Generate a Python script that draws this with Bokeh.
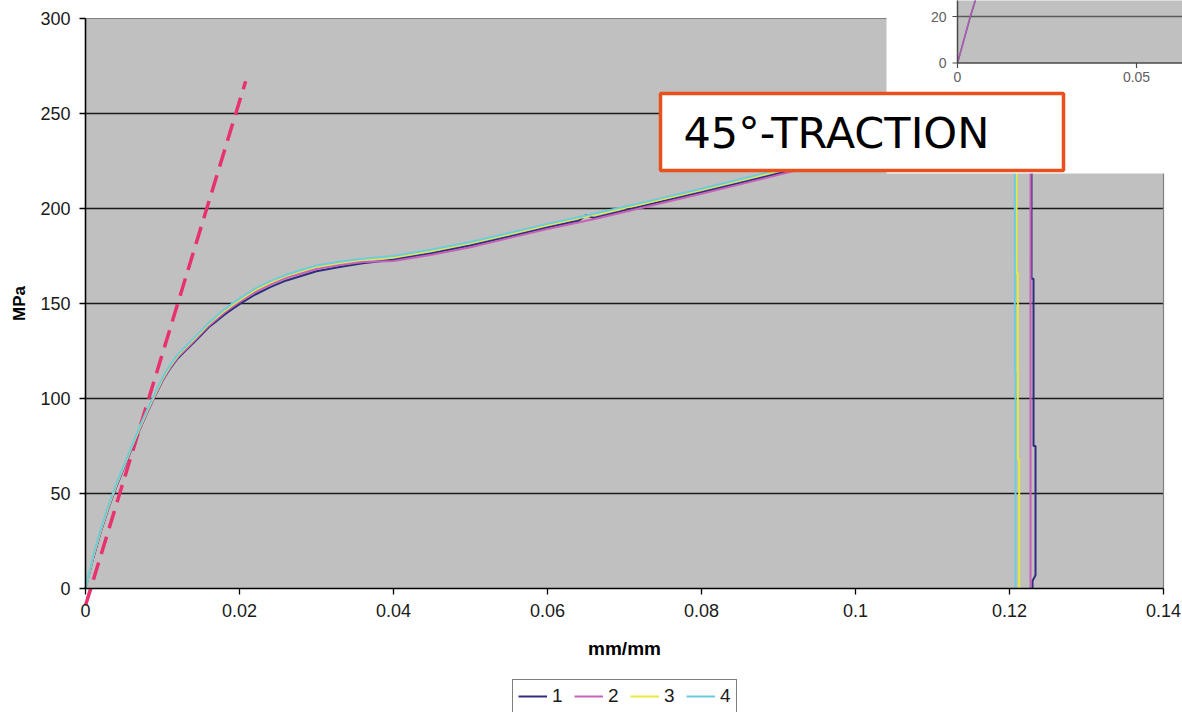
from bokeh.plotting import figure
from bokeh.models import Range1d, FixedTicker, Legend, LegendItem
from bokeh.embed import file_html
from bokeh.resources import INLINE
from bokeh.core.properties import value

# ---------------- data ----------------
SERIES_NAMES = ["1", "2", "3", "4"]
SERIES_COLORS = ["#2E2E7E", "#C862B8", "#E9E93C", "#6ACCDC"]

STRAIN = [0.0, 0.001, 0.002, 0.003, 0.004, 0.005, 0.006, 0.007, 0.008, 0.009,
          0.010, 0.011, 0.012, 0.013, 0.014, 0.015, 0.016, 0.017, 0.018, 0.019,
          0.020, 0.022, 0.024, 0.026, 0.028, 0.030, 0.033, 0.036, 0.040, 0.045,
          0.050, 0.055, 0.060, 0.064, 0.065, 0.066, 0.070, 0.075, 0.080, 0.085,
          0.090, 0.095, 0.100, 0.105, 0.110, 0.115, 0.120]

STRESS_1 = [0.0, 16.0, 30.0, 42.5, 53.5, 63.5, 73.5, 83.2, 92.4, 101.0,
            109.3, 115.8, 121.2, 125.2, 129.2, 133.3, 137.5, 140.7, 144.0, 146.9,
            149.7, 154.6, 158.6, 162.0, 164.5, 167.0, 169.2, 171.2, 173.0, 176.5,
            180.5, 185.2, 190.0, 193.5, 196.5, 195.0, 199.0, 203.8, 208.6, 213.5,
            218.5, 223.5, 228.5, 233.3, 238.0, 242.3, 246.3]
STRESS_2 = [0.0, 16.2, 30.3, 42.8, 53.8, 63.8, 73.8, 83.4, 92.6, 101.2,
            109.6, 116.2, 121.8, 125.8, 129.8, 134.0, 138.2, 141.6, 145.0, 148.0,
            150.8, 156.0, 160.0, 163.4, 165.8, 168.2, 170.2, 171.8, 172.4, 175.7,
            179.6, 184.4, 189.2, 192.6, 193.5, 194.3, 198.2, 203.0, 207.8, 212.7,
            217.7, 222.7, 227.7, 232.5, 237.2, 241.5, 245.5]
STRESS_3 = [0.0, 17.0, 31.0, 43.5, 54.5, 64.5, 74.6, 84.2, 93.4, 102.0,
            110.4, 117.0, 122.6, 126.8, 130.8, 135.0, 139.2, 142.6, 146.0, 149.0,
            151.8, 157.0, 161.0, 164.4, 167.0, 169.4, 171.4, 173.0, 174.4, 177.8,
            181.8, 186.5, 191.3, 194.8, 195.8, 196.6, 200.3, 205.0, 209.8, 214.8,
            219.8, 224.8, 229.8, 234.6, 239.3, 243.6, 247.5]
STRESS_4 = [0.0, 17.4, 31.5, 44.0, 55.0, 65.0, 75.1, 84.8, 94.0, 102.6,
            111.0, 117.6, 123.2, 127.4, 131.4, 135.6, 139.8, 143.3, 146.8, 149.8,
            152.6, 157.8, 161.8, 165.0, 167.6, 170.0, 172.0, 173.6, 175.0, 178.4,
            182.4, 187.1, 191.9, 195.4, 196.3, 197.2, 200.9, 205.6, 210.4, 215.4,
            220.4, 225.4, 230.4, 235.2, 239.9, 244.2, 248.0]

# fracture (final drop) of each specimen
TAIL_STRAIN_1 = [0.1225, 0.12286, 0.12286, 0.12312, 0.12312, 0.12338, 0.12338, 0.12299, 0.12299]
TAIL_STRESS_1 = [248.0, 249.0, 163.0, 163.0, 75.0, 75.0, 7.0, 4.0, 0.0]
TAIL_STRAIN_2 = [0.1225, 0.12273, 0.12273]
TAIL_STRESS_2 = [247.6, 248.0, 0.0]
TAIL_STRAIN_3 = [0.12091, 0.12091, 0.12108, 0.12108, 0.12126, 0.12126]
TAIL_STRESS_3 = [248.2, 166.0, 166.0, 68.0, 68.0, 0.0]
TAIL_STRAIN_4 = [0.12069, 0.12069, 0.12078, 0.12078]
TAIL_STRESS_4 = [248.5, 114.0, 114.0, 0.0]

# elastic-slope guide line (dashed)
MODULUS_STRAIN = [0.0, 0.0208]
MODULUS_STRESS = [-9.0, 267.0]

X_TICKS = [0.0, 0.02, 0.04, 0.06, 0.08, 0.10, 0.12, 0.14]
X_TICK_LABELS = ["0", "0.02", "0.04", "0.06", "0.08", "0.1", "0.12", "0.14"]
Y_TICKS = [0, 50, 100, 150, 200, 250, 300]
Y_TICK_LABELS = ["0", "50", "100", "150", "200", "250", "300"]
X_TITLE = "mm/mm"
Y_TITLE = "MPa"
BOX_TEXT = "45°-TRACTION"

# inset (partially visible, top right)
INSET_STRAIN = [0.0, 0.0036, 0.0054]
INSET_STRESS_1 = [0.0, 20.0, 29.0]
INSET_STRESS_2 = [0.0, 20.3, 29.5]
INSET_X_TICKS = [0.0, 0.05]
INSET_X_TICK_LABELS = ["0", "0.05"]
INSET_Y_TICKS = [0.0, 20.0]
INSET_Y_TICK_LABELS = ["0", "20"]

# ---------------- layout (pixels) ----------------
W, H = 1182, 712
ORIGIN_X, ORIGIN_Y = 85, 588        # pixel position of (0, 0)
PLOT_R, PLOT_T = 1163, 18           # where X max / Y max land
X_MAX, Y_MAX = X_TICKS[-1], Y_TICKS[-1]
XS = (PLOT_R - ORIGIN_X) / X_MAX    # px per data unit
YS = (ORIGIN_Y - PLOT_T) / Y_MAX

def mx(px):
    return (px - ORIGIN_X) / XS

def my(py):
    return (ORIGIN_Y - py) / YS

# inset geometry
I_X0, I_Y0 = 957.0, 62.5
I_XS = (1136.0 - I_X0) / INSET_X_TICKS[1]
I_YS = (I_Y0 - 16.0) / INSET_Y_TICKS[1]

def ix(px):
    return (px - I_X0) / I_XS

def iy(py):
    return (I_Y0 - py) / I_YS

# frame covers the whole canvas; axes are fixed at the data origin
p = figure(width=W, height=H, title=None,
           x_range=Range1d(mx(0), mx(W)), y_range=Range1d(my(H), my(0)),
           output_backend="svg", toolbar_location=None,
           min_border_left=0, min_border_right=0, min_border_top=0, min_border_bottom=0,
           background_fill_color="white", border_fill_color="white",
           outline_line_color=None)
p.extra_x_ranges = {"ix": Range1d(ix(0), ix(W))}
p.extra_y_ranges = {"iy": Range1d(iy(H), iy(0))}
p.grid.visible = False

TICK_FONT = "Liberation Sans"

# plot area
p.quad(left=0, right=X_MAX, bottom=0, top=Y_MAX, fill_color="#C0C0C0", line_color=None)
grid_vals = Y_TICKS[1:-1]
p.segment(x0=[0] * len(grid_vals), x1=[X_MAX] * len(grid_vals), y0=grid_vals, y1=grid_vals,
          line_color="#1a1a1a", line_width=1.7)
p.line([0, X_MAX, X_MAX], [Y_MAX, Y_MAX, 0], line_color="#808080", line_width=1.2)

# dashed modulus line
p.line(MODULUS_STRAIN, MODULUS_STRESS, line_color="#E8326E", line_width=3.5, line_dash="18 9")

series = [(STRESS_1, TAIL_STRAIN_1, TAIL_STRESS_1),
          (STRESS_2, TAIL_STRAIN_2, TAIL_STRESS_2),
          (STRESS_3, TAIL_STRAIN_3, TAIL_STRESS_3),
          (STRESS_4, TAIL_STRAIN_4, TAIL_STRESS_4)]
renderers = []
for (ys, tx, ty), col in zip(series, SERIES_COLORS):
    r = p.line(STRAIN + tx, ys + ty, line_color=col, line_width=2)
    renderers.append(r)

# ---------------- inset ----------------
p.quad(left=mx(886), right=mx(W + 10), bottom=my(173), top=my(-10),
       fill_color="white", line_color=None)
p.quad(left=0, right=ix(W + 10), bottom=0, top=iy(-10), fill_color="#C0C0C0",
       line_color=None, x_range_name="ix", y_range_name="iy")
ig = INSET_Y_TICKS[1:]
p.segment(x0=[0] * len(ig), x1=[ix(W + 10)] * len(ig), y0=ig, y1=ig, line_color="#5a5a5a",
          line_width=1.5, x_range_name="ix", y_range_name="iy")
for ys_, col in ((INSET_STRESS_1, SERIES_COLORS[0]), (INSET_STRESS_2, SERIES_COLORS[1])):
    p.line(INSET_STRAIN, ys_, line_color=col, line_width=1.5, line_alpha=0.8,
           x_range_name="ix", y_range_name="iy")
p.segment(x0=[0, 0], x1=[0, ix(W + 10)], y0=[0, 0], y1=[iy(-10), 0], line_color="#4a4a4a",
          line_width=1.5, x_range_name="ix", y_range_name="iy")
tl_x = ix(I_X0) - ix(I_X0 - 5)
tl_y = iy(I_Y0) - iy(I_Y0 + 5)
p.segment(x0=[-tl_x] * len(INSET_Y_TICKS), x1=[0] * len(INSET_Y_TICKS),
          y0=INSET_Y_TICKS, y1=INSET_Y_TICKS, line_color="#4a4a4a", line_width=1.2,
          x_range_name="ix", y_range_name="iy")
p.segment(x0=INSET_X_TICKS, x1=INSET_X_TICKS, y0=[0] * len(INSET_X_TICKS),
          y1=[-tl_y] * len(INSET_X_TICKS), line_color="#4a4a4a", line_width=1.2,
          x_range_name="ix", y_range_name="iy")
p.text(x=[ix(I_X0 - 11)] * len(INSET_Y_TICKS), y=INSET_Y_TICKS, text=INSET_Y_TICK_LABELS,
       text_align="right", text_baseline="middle", text_font=value(TICK_FONT),
       text_font_size="14px", text_color="#606060", x_range_name="ix", y_range_name="iy")
p.text(x=INSET_X_TICKS, y=[iy(I_Y0 + 14)] * len(INSET_X_TICKS), text=INSET_X_TICK_LABELS,
       text_align="center", text_baseline="middle", text_font=value(TICK_FONT),
       text_font_size="14px", text_color="#606060", x_range_name="ix", y_range_name="iy")

# ---------------- text box ----------------
p.quad(left=mx(660), right=mx(1063), bottom=my(170), top=my(93),
       fill_color="white", line_color="#E8501E", line_width=3.5)
p.text(x=[mx(683)], y=[my(132)], text=[BOX_TEXT], text_align="left", text_baseline="middle",
       text_font=value("DejaVu Sans"), text_font_size="43px", text_color="black")

# ---------------- axes (fixed at the data origin) ----------------
for ax in (p.xaxis[0], p.yaxis[0]):
    ax.fixed_location = 0
    ax.axis_line_color = "black"
    ax.axis_line_width = 1.6
    ax.major_tick_line_color = "black"
    ax.major_tick_line_width = 1.3
    ax.major_tick_in = 0
    ax.major_tick_out = 6
    ax.minor_tick_line_color = None
    ax.major_label_text_font = TICK_FONT
    ax.major_label_text_font_size = "18px"
    ax.major_label_text_color = "#1a1a1a"
    ax.axis_label_text_font = TICK_FONT
    ax.axis_label_text_font_style = "bold"
    ax.axis_label_text_color = "black"
p.xaxis.ticker = FixedTicker(ticks=X_TICKS)
p.xaxis.major_label_overrides = dict(zip(X_TICKS, X_TICK_LABELS))
p.xaxis.bounds = (0, X_MAX)
p.xaxis.major_label_standoff = 9
p.xaxis.axis_label = X_TITLE
p.xaxis.axis_label_text_font_size = "19px"
p.xaxis.axis_label_standoff = 18
p.yaxis.ticker = FixedTicker(ticks=Y_TICKS)
p.yaxis.major_label_overrides = dict(zip(Y_TICKS, Y_TICK_LABELS))
p.yaxis.bounds = (0, Y_MAX)
p.yaxis.major_label_standoff = 9
p.yaxis.axis_label = Y_TITLE
p.yaxis.axis_label_text_font_size = "17px"
p.yaxis.axis_label_standoff = 8

# ---------------- legend ----------------
legend = Legend(items=[LegendItem(label=n, renderers=[r]) for n, r in zip(SERIES_NAMES, renderers)],
                orientation="horizontal", location=(512, -1),
                border_line_color="black", border_line_width=1.2,
                background_fill_color="white", background_fill_alpha=1.0,
                label_text_font=TICK_FONT, label_text_font_size="19px",
                label_text_color="#1a1a1a", glyph_width=29, glyph_height=18,
                label_width=11, label_standoff=5, spacing=11, padding=5, margin=0)
p.add_layout(legend)

open("out.html", "w").write(file_html(p, INLINE))
